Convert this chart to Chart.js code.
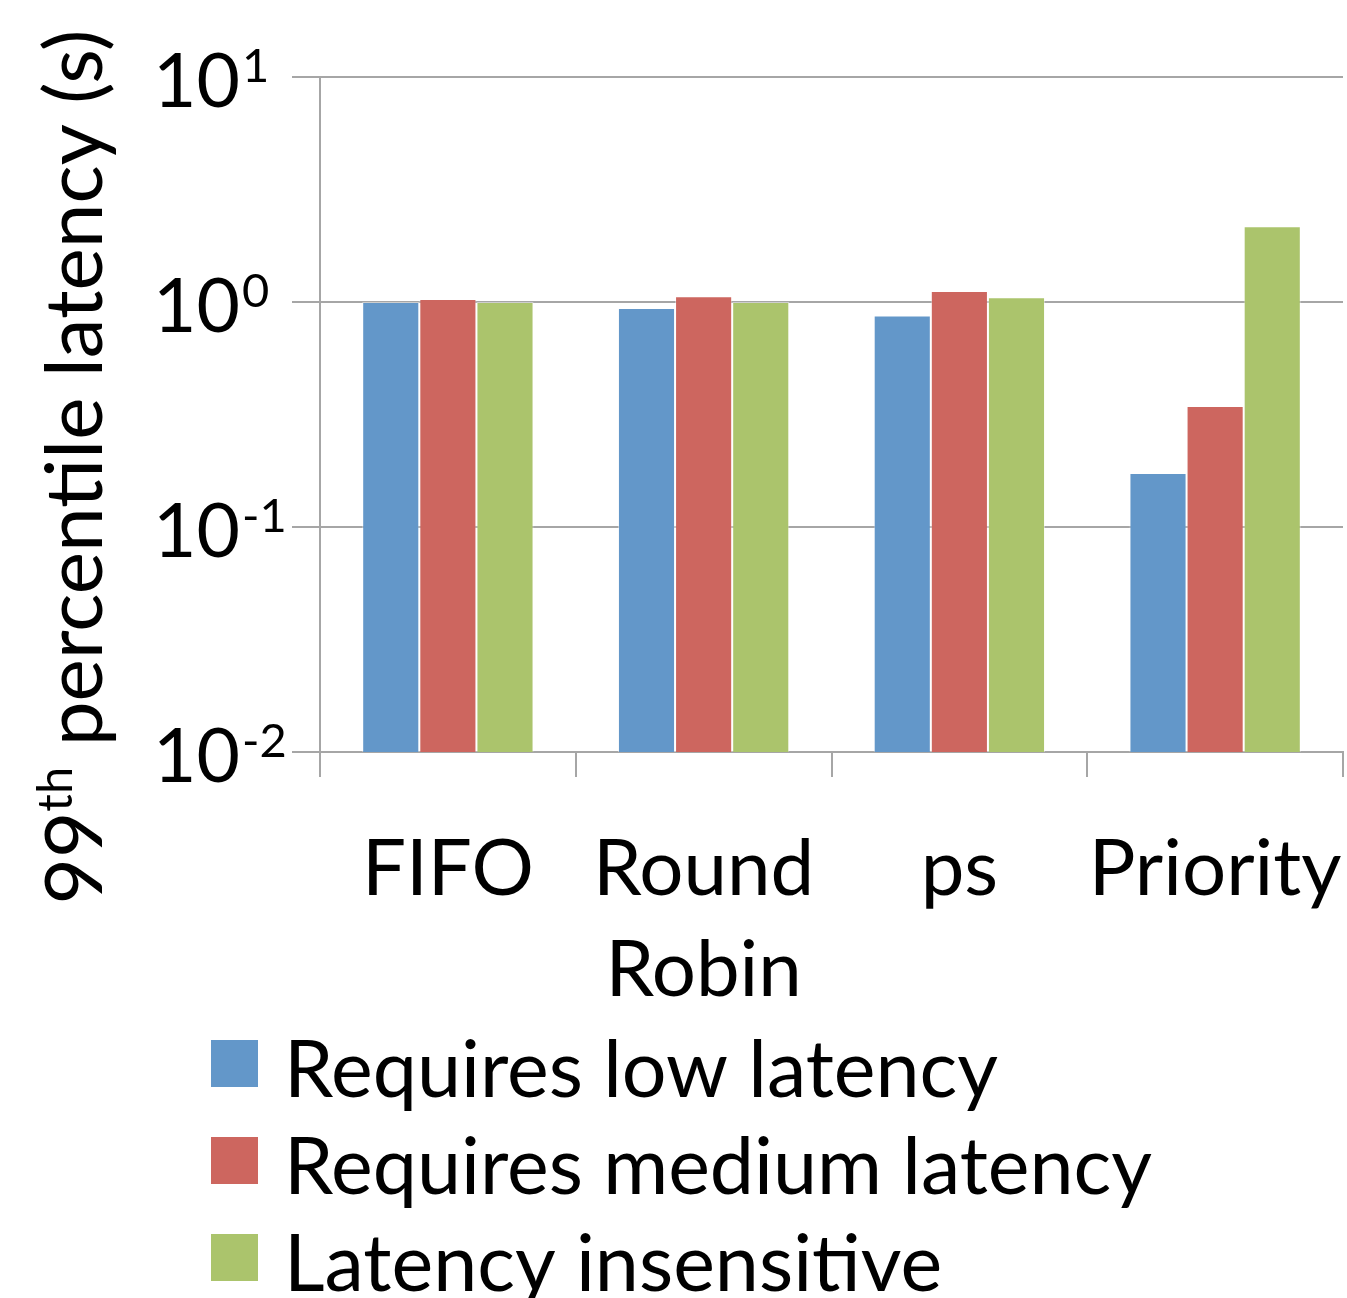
<!DOCTYPE html>
<html>
<head>
<meta charset="utf-8">
<script src="https://cdn.jsdelivr.net/npm/chart.js@4.4.1/dist/chart.umd.min.js"></script>
<style>
  html, body { margin: 0; padding: 0; background: #fff; }
</style>
</head>
<body>
<canvas id="latencyChart" width="1347" height="1298"></canvas>
<script>
// Data
const categories = [['FIFO'], ['Round', 'Robin'], ['ps'], ['Priority']];
const lowLatency = [1.0, 0.94, 0.87, 0.174];
const mediumLatency = [1.03, 1.06, 1.12, 0.345];
const insensitive = [1.0, 1.0, 1.05, 2.17];
const seriesNames = ['Requires low latency', 'Requires medium latency', 'Latency insensitive'];
const seriesColors = ['#6397c9', '#cd665f', '#abc46c'];
const yTicks = [0.01, 0.1, 1, 10];

const FONT = 'Lato';
const GRID = '#a6a6a6';

// y tick labels as 10 with superscript exponent
const powerLabels = {
    id: 'powerLabels',
    afterDraw(chart) {
        const ctx = chart.ctx;
        const y = chart.scales.y;
        ctx.save();
        ctx.fillStyle = '#000';
        ctx.textAlign = 'left';
        ctx.textBaseline = 'alphabetic';
        yTicks.forEach(v => {
            const py = y.getPixelForValue(v);
            ctx.font = `75px ${FONT}`;
            ctx.fillText('10', 153, py + 30);
            const w = ctx.measureText('10').width;
            ctx.font = `47px ${FONT}`;
            ctx.fillText(String(Math.round(Math.log10(v))), 153 + w + 2, py + 5);
        });
        ctx.restore();
    }
};

// rotated y title with superscript "th"
const yTitle = {
    id: 'yTitle',
    afterDraw(chart) {
        const ctx = chart.ctx;
        const parts = [
            { t: '99', size: 80, rise: 0 },
            { t: 'th', size: 49, rise: -30 },
            { t: ' percentile latency (s)', size: 80, rise: 0 }
        ];
        ctx.save();
        ctx.fillStyle = '#000';
        ctx.textBaseline = 'alphabetic';
        ctx.textAlign = 'left';
        let total = 0;
        parts.forEach(p => {
            ctx.font = `${p.size}px ${FONT}`;
            p.w = ctx.measureText(p.t).width;
            total += p.w;
        });
        ctx.translate(102, 467);
        ctx.rotate(-Math.PI / 2);
        let x = -total / 2;
        parts.forEach(p => {
            ctx.font = `${p.size}px ${FONT}`;
            ctx.fillText(p.t, x, p.rise);
            x += p.w;
        });
        ctx.restore();
    }
};

// vertical legend, left aligned
const stackedLegend = {
    id: 'stackedLegend',
    afterDraw(chart) {
        const ctx = chart.ctx;
        ctx.save();
        ctx.textAlign = 'left';
        ctx.textBaseline = 'alphabetic';
        ctx.font = `79px ${FONT}`;
        chart.data.datasets.forEach((ds, i) => {
            const top = 1040 + i * 97;
            ctx.fillStyle = ds.backgroundColor;
            ctx.fillRect(211, top, 47, 47);
            ctx.fillStyle = '#000';
            ctx.fillText(ds.label, 284, top + 57);
        });
        ctx.restore();
    }
};

const ctx = document.getElementById('latencyChart').getContext('2d');
new Chart(ctx, {
    type: 'bar',
    data: {
        labels: categories,
        datasets: [
            { label: seriesNames[0], data: lowLatency, backgroundColor: seriesColors[0] },
            { label: seriesNames[1], data: mediumLatency, backgroundColor: seriesColors[1] },
            { label: seriesNames[2], data: insensitive, backgroundColor: seriesColors[2] }
        ].map(d => Object.assign(d, {
            categoryPercentage: 0.67,
            barPercentage: 1.0,
            borderWidth: 1,
            borderColor: 'rgba(255,255,255,0.45)'
        }))
    },
    options: {
        responsive: false,
        animation: false,
        layout: { padding: { left: 292, right: 4, top: 77, bottom: 0 } },
        plugins: {
            legend: { display: false },
            tooltip: { enabled: false }
        },
        scales: {
            x: {
                grid: { drawOnChartArea: false, tickLength: 25, color: GRID, lineWidth: 2 },
                border: { color: GRID, width: 2 },
                ticks: {
                    color: '#000',
                    font: { family: FONT, size: 78, lineHeight: 1.3 },
                    padding: 42,
                    maxRotation: 0,
                    autoSkip: false
                },
                afterFit: s => {
                    s.height = 546;
                    s.paddingLeft = 0;
                    s.paddingRight = 0;
                }
            },
            y: {
                type: 'logarithmic',
                min: 0.01,
                max: 10,
                afterBuildTicks: s => { s.ticks = yTicks.map(v => ({ value: v })); },
                grid: { color: GRID, lineWidth: 2, tickLength: 28 },
                border: { color: GRID, width: 2 },
                ticks: { display: false },
                afterFit: s => {
                    s.width = 28;
                    s.paddingTop = 0;
                    s.paddingBottom = 0;
                }
            }
        }
    },
    plugins: [powerLabels, yTitle, stackedLegend]
});
</script>
</body>
</html>
